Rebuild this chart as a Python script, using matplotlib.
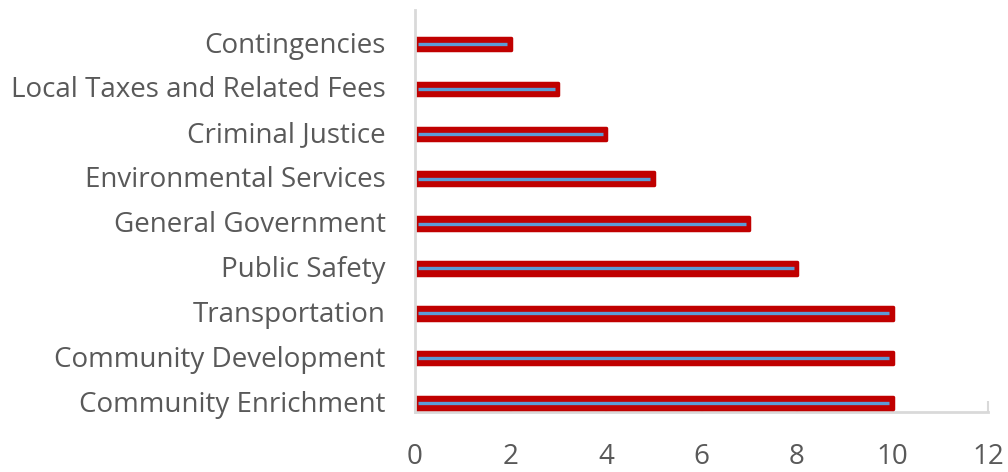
import matplotlib
matplotlib.use("Agg")
import matplotlib.pyplot as plt
import matplotlib.transforms as mtransforms

categories = ["Community Enrichment", "Community Development", "Transportation",
              "Public Safety", "General Government", "Environmental Services",
              "Criminal Justice", "Local Taxes and Related Fees", "Contingencies"]
values = [10, 10, 10, 8, 7, 5, 4, 3, 2]
x_ticks = [0, 2, 4, 6, 8, 10, 12]

W, H, DPI = 1008, 472, 100
fig = plt.figure(figsize=(W / DPI, H / DPI), dpi=DPI)
ax = fig.add_axes([415 / W, 1 - 412 / H, (988 - 415) / W, (412 - 10) / H])

plt.rcParams['font.family'] = ['Open Sans', 'DejaVu Sans']
txt = '#595959'
red = '#C00000'
blue = '#5B9BD5'

ys = list(range(len(categories)))
ax.barh(ys, values, height=0.28, color=red, edgecolor=red, linewidth=2.5,
        joinstyle='round', zorder=3)
ax.hlines(ys, [0.07] * len(ys), [v - 0.07 for v in values], color=blue, lw=2.4, zorder=4)

ax.set_xlim(0, 12)
ax.set_ylim(-0.2, 8.76)
ax.set_xticks(x_ticks)
ax.set_xticklabels([str(t) for t in x_ticks], fontsize=20, color=txt, family='Open Sans')
ax.set_yticks(ys)
ax.set_yticklabels(categories, fontsize=20, color=txt, family='Open Sans')
ax.tick_params(axis='x', direction='in', length=8, width=1.5, color='#D9D9D9', pad=22)
ax.tick_params(axis='y', length=0, pad=21)
offset = mtransforms.ScaledTranslation(0, 2 / DPI, fig.dpi_scale_trans)
for lab in ax.get_yticklabels():
    lab.set_transform(lab.get_transform() + offset)
for s in ['top', 'right']:
    ax.spines[s].set_visible(False)
for s in ['left', 'bottom']:
    ax.spines[s].set_color('#D9D9D9')
    ax.spines[s].set_linewidth(2)
ax.spines['left'].set_zorder(5)

fig.savefig('out.png', dpi=DPI)
